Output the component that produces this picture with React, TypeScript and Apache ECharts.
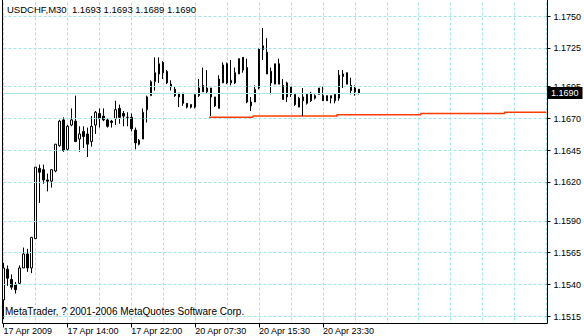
import React, { useEffect, useRef } from 'react';
import * as echarts from 'echarts';

const FONT = '"Liberation Sans", Arial, sans-serif';

// 30-minute slots (bars plus the empty shift area on the right)
const slotCount = 137;
const categories: string[] = Array.from({ length: slotCount }, (_, i) => String(i));

const xTickIndex = [0, 16, 32, 48, 64, 80];
const xTickLabels = ['17 Apr 2009', '17 Apr 14:00', '17 Apr 22:00', '20 Apr 07:30', '20 Apr 15:30', '20 Apr 23:30'];

const yTicks = [1.175, 1.1725, 1.1695, 1.167, 1.1645, 1.162, 1.159, 1.1565, 1.154, 1.1515];
const yMin = 1.150952;
const yMax = 1.176097;

// [open, close, low, high]
const ohlc: number[][] = [
  [1.1528, 1.1553, 1.1513, 1.1557],
  [1.1552, 1.1545, 1.1539, 1.1555],
  [1.1544, 1.1538, 1.1536, 1.1548],
  [1.154, 1.1536, 1.1533, 1.1542],
  [1.1541, 1.1553, 1.154, 1.1555],
  [1.1553, 1.1564, 1.1553, 1.1569],
  [1.1564, 1.1553, 1.155, 1.1568],
  [1.1553, 1.1577, 1.1549, 1.1577],
  [1.1576, 1.1632, 1.1576, 1.1632],
  [1.1631, 1.1628, 1.1604, 1.1634],
  [1.163, 1.1622, 1.1619, 1.1634],
  [1.1622, 1.1621, 1.1613, 1.1627],
  [1.1621, 1.163, 1.1616, 1.163],
  [1.1629, 1.165, 1.1628, 1.165],
  [1.1649, 1.1668, 1.1648, 1.1669],
  [1.1669, 1.1645, 1.1644, 1.1671],
  [1.1646, 1.1664, 1.1645, 1.1665],
  [1.1665, 1.1669, 1.1664, 1.1678],
  [1.1668, 1.1652, 1.1652, 1.1688],
  [1.1654, 1.1658, 1.1644, 1.1664],
  [1.166, 1.1656, 1.1647, 1.1664],
  [1.1658, 1.165, 1.164, 1.1663],
  [1.1652, 1.1664, 1.1648, 1.1672],
  [1.1665, 1.1675, 1.1658, 1.1676],
  [1.1674, 1.167, 1.1663, 1.1678],
  [1.1672, 1.1669, 1.1668, 1.1678],
  [1.1669, 1.1664, 1.1663, 1.167],
  [1.1668, 1.1667, 1.1663, 1.1669],
  [1.167, 1.1677, 1.1665, 1.1684],
  [1.1678, 1.1671, 1.1666, 1.1681],
  [1.1674, 1.1672, 1.1664, 1.1676],
  [1.1671, 1.1671, 1.1664, 1.1675],
  [1.1671, 1.1662, 1.166, 1.1674],
  [1.1661, 1.1651, 1.1646, 1.1663],
  [1.1653, 1.165, 1.1649, 1.1654],
  [1.1654, 1.1675, 1.1654, 1.1678],
  [1.1677, 1.1687, 1.1667, 1.1688],
  [1.1688, 1.1699, 1.1688, 1.17],
  [1.1699, 1.1706, 1.1692, 1.1718],
  [1.1705, 1.1713, 1.1698, 1.1718],
  [1.1714, 1.1706, 1.1701, 1.1715],
  [1.1707, 1.1698, 1.1697, 1.1708],
  [1.1697, 1.1695, 1.1692, 1.17],
  [1.1693, 1.1688, 1.1687, 1.1695],
  [1.169, 1.1687, 1.1679, 1.169],
  [1.169, 1.1682, 1.168, 1.169],
  [1.1682, 1.1679, 1.1678, 1.1682],
  [1.1681, 1.1679, 1.1678, 1.1681],
  [1.1679, 1.1689, 1.1678, 1.1689],
  [1.1688, 1.1694, 1.1687, 1.1701],
  [1.1696, 1.1691, 1.1691, 1.171],
  [1.1691, 1.1694, 1.169, 1.1708],
  [1.1694, 1.1687, 1.1672, 1.1694],
  [1.1687, 1.168, 1.1679, 1.1687],
  [1.1678, 1.1701, 1.1678, 1.1704],
  [1.1698, 1.1712, 1.1698, 1.1714],
  [1.1713, 1.1698, 1.1697, 1.1714],
  [1.1698, 1.17, 1.1696, 1.1716],
  [1.1698, 1.1706, 1.1697, 1.171],
  [1.1705, 1.1717, 1.1705, 1.1717],
  [1.1718, 1.1708, 1.1706, 1.1718],
  [1.171, 1.1683, 1.1682, 1.1717],
  [1.1683, 1.168, 1.1676, 1.1687],
  [1.1683, 1.1693, 1.1683, 1.1696],
  [1.1694, 1.1725, 1.1693, 1.1725],
  [1.1727, 1.1724, 1.1716, 1.1741],
  [1.1722, 1.1705, 1.1705, 1.1733],
  [1.1707, 1.1698, 1.1689, 1.171],
  [1.1697, 1.1713, 1.1697, 1.1713],
  [1.1713, 1.1697, 1.1697, 1.1717],
  [1.1696, 1.1685, 1.1685, 1.1701],
  [1.1698, 1.1687, 1.1683, 1.1699],
  [1.1695, 1.1689, 1.1687, 1.1695],
  [1.1689, 1.1681, 1.168, 1.1689],
  [1.1679, 1.1686, 1.1679, 1.1687],
  [1.1687, 1.1684, 1.1672, 1.1694],
  [1.1682, 1.1689, 1.1681, 1.169],
  [1.169, 1.1684, 1.1683, 1.1691],
  [1.1686, 1.1688, 1.1685, 1.1689],
  [1.1689, 1.1694, 1.1689, 1.1694],
  [1.1688, 1.1684, 1.1684, 1.1695],
  [1.1688, 1.1684, 1.1684, 1.1688],
  [1.1686, 1.1688, 1.1682, 1.1688],
  [1.1689, 1.1684, 1.1682, 1.1689],
  [1.1686, 1.1704, 1.1684, 1.1708],
  [1.1703, 1.1705, 1.1694, 1.1708],
  [1.1706, 1.1697, 1.1697, 1.1706],
  [1.1696, 1.1692, 1.1689, 1.1702],
  [1.1694, 1.1691, 1.1688, 1.1696],
  [1.1693, 1.169, 1.1689, 1.1693],
];

// orange level line: starting slot of each level
const pivotStarts = [52, 63, 84, 105, 126];
const pivotLevels = [1.1671, 1.1672, 1.1673, 1.1674, 1.1675];
const pivotEnd = 136;

const currentPrice = 1.169;
const symbolName = 'USDCHF,M30';
const lastBarValues = ['1.1693', '1.1693', '1.1689', '1.1690'];
const copyright = 'MetaTrader, ? 2001-2006 MetaQuotes Software Corp.';

const GRID_COLOR = '#a3e4ea';

export default function App() {
  const ref = useRef<HTMLDivElement>(null);

  useEffect(() => {
    if (!ref.current) return;
    const chart = echarts.init(ref.current, null, { renderer: 'svg' });

    const pivotData = categories.map((_, i) => {
      if (i > pivotEnd) return null;
      let v: number | null = null;
      for (let k = 0; k < pivotStarts.length; k++) {
        if (i >= pivotStarts[k]) v = pivotLevels[k];
      }
      return v;
    });

    const gridLines = yTicks.map((v) => ({
      yAxis: v,
      lineStyle: { color: GRID_COLOR, type: [3, 2], width: 1 },
      label: { show: false },
    }));

    const option: any = {
      animation: false,
      backgroundColor: '#ffffff',
      grid: { left: 3.5, right: 36.5, top: 2.5, bottom: 12.5 },
      xAxis: {
        type: 'category',
        data: categories,
        boundaryGap: false,
        axisLine: { show: false },
        axisTick: {
          show: true,
          interval: (i: number) => xTickIndex.includes(i),
          length: 4,
          lineStyle: { color: '#000' },
        },
        axisLabel: {
          interval: (i: number) => xTickIndex.includes(i),
          formatter: (_v: string, i: number) => {
            const k = xTickIndex.indexOf(i);
            return k >= 0 ? xTickLabels[k] : '';
          },
          align: 'left',
          margin: 3,
          fontSize: 9,
          fontFamily: FONT,
          color: '#000',
        },
        splitLine: {
          show: true,
          interval: (i: number) => i % 8 === 0,
          lineStyle: { color: GRID_COLOR, type: [3, 2], width: 1 },
        },
      },
      yAxis: {
        type: 'value',
        position: 'right',
        min: yMin,
        max: yMax,
        axisLine: { show: false },
        splitLine: { show: false },
        axisTick: {
          show: true,
          customValues: yTicks,
          length: 4,
          lineStyle: { color: '#000' },
        },
        axisLabel: {
          customValues: yTicks,
          formatter: (v: number) => v.toFixed(4),
          margin: 7,
          fontSize: 9,
          fontFamily: FONT,
          color: '#000',
        },
      },
      series: [
        {
          type: 'line',
          data: pivotData,
          step: 'middle',
          showSymbol: false,
          symbol: 'none',
          z: 1,
          silent: true,
          lineStyle: { color: '#ff3c00', width: 1.5 },
          markLine: {
            symbol: ['none', 'none'],
            silent: true,
            animation: false,
            precision: 6,
            data: [
              ...gridLines,
              {
                yAxis: currentPrice,
                lineStyle: { color: '#a8e6ea', type: 'solid', width: 1 },
                label: {
                  show: true,
                  position: 'end',
                  distance: 1.5,
                  formatter: () => currentPrice.toFixed(4),
                  backgroundColor: '#000',
                  color: '#fff',
                  padding: [1, 4, 1, 3],
                  fontSize: 9,
                  lineHeight: 10,
                  fontFamily: FONT,
                },
              },
            ],
          },
        },
        {
          type: 'candlestick',
          data: ohlc,
          barWidth: 2,
          clip: false,
          z: 3,
          itemStyle: {
            color: '#ffffff',
            color0: '#000000',
            borderColor: '#000000',
            borderColor0: '#000000',
            borderColorDoji: '#000000',
            borderWidth: 1,
          },
        },
      ],
      graphic: [
        {
          type: 'polyline',
          z: 100,
          silent: true,
          shape: { points: [[2.5, 0], [2.5, 323.5], [547.5, 323.5], [547.5, 0]] },
          style: { stroke: '#000', lineWidth: 1, fill: null },
        },
        {
          type: 'text',
          z: 100,
          silent: true,
          style: {
            x: 7,
            y: 9,
            text: symbolName + '  ' + lastBarValues.join(' '),
            font: '9.5px ' + FONT,
            fill: '#000',
            verticalAlign: 'middle',
          },
        },
        {
          type: 'text',
          z: 100,
          silent: true,
          style: {
            x: 5,
            y: 311,
            text: copyright,
            font: '10px ' + FONT,
            fill: '#000',
            verticalAlign: 'middle',
          },
        },
      ],
    };

    chart.setOption(option);
    return () => chart.dispose();
  }, []);

  return (
    <div
      ref={ref}
      style={{ position: 'fixed', left: 0, top: 0, width: 584, height: 336, background: '#fff' }}
    />
  );
}
